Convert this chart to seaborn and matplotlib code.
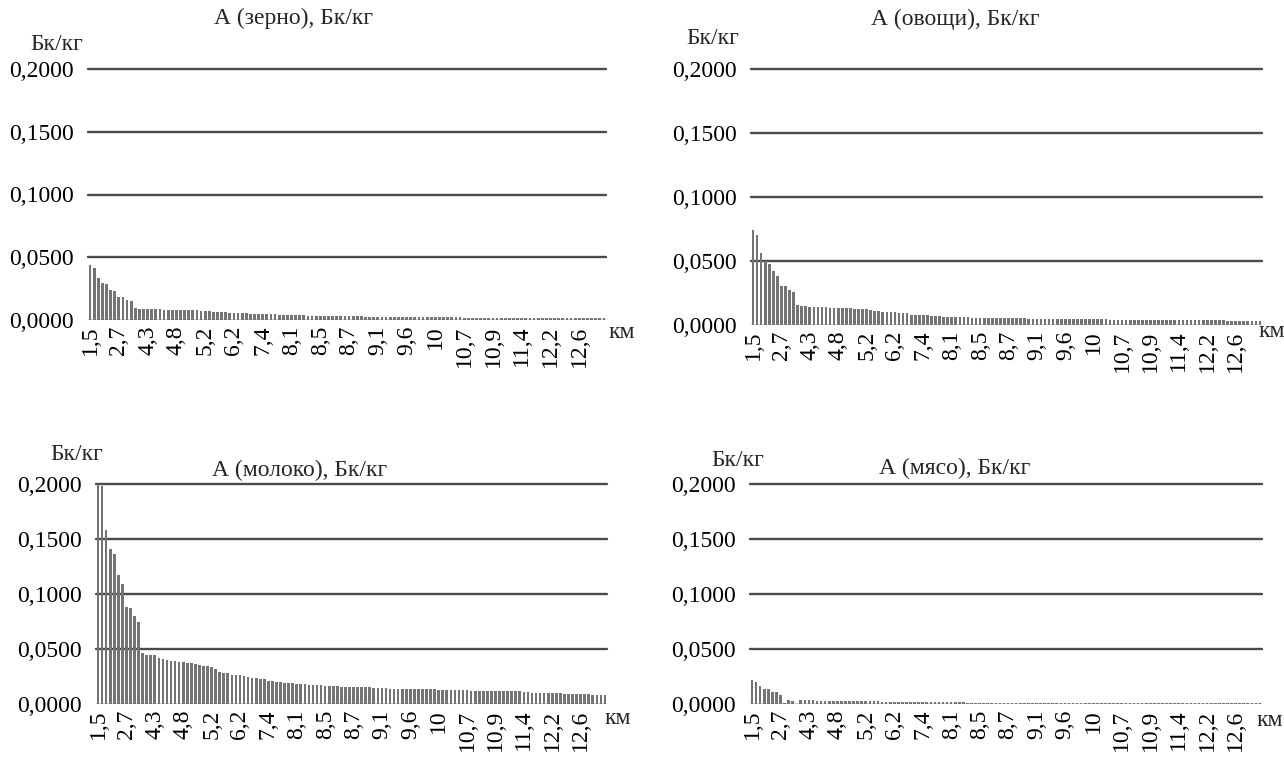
import numpy as np
import pandas as pd
import seaborn as sns
import matplotlib
matplotlib.use("Agg")
import matplotlib.pyplot as plt
from matplotlib.ticker import FuncFormatter

sns.set_theme(style="white")
plt.rcParams["font.family"] = ["Liberation Serif", "DejaVu Serif"]

# Distance labels (km) printed under every 7th bar
tick_labels = ["1,5", "2,7", "4,3", "4,8", "5,2", "6,2", "7,4", "8,1", "8,5",
               "8,7", "9,1", "9,6", "10", "10,7", "10,9", "11,4", "12,2", "12,6"]
tick_step = 7

titles = ["А (зерно), Бк/кг", "А (овощи), Бк/кг", "А (молоко), Бк/кг", "А (мясо), Бк/кг"]
y_ticks = [0.0, 0.05, 0.10, 0.15, 0.20]

# Specific activity, Bq/kg, one value per distance point
grain = [
    0.0437, 0.0415, 0.0331, 0.0294, 0.0283, 0.0243, 0.0228, 0.0183, 0.0182, 0.0161, 0.0153,
    0.0092, 0.0091, 0.0090, 0.0089, 0.0088, 0.0086,
    0.0084, 0.0083, 0.0082, 0.0081, 0.0080, 0.0080, 0.0079, 0.0078, 0.0077, 0.0076, 0.0074, 0.0072, 0.0068,
    0.0064, 0.0062, 0.0061, 0.0060, 0.0059, 0.0058, 0.0057, 0.0056, 0.0054,
    0.0050, 0.0049, 0.0048, 0.0047, 0.0046, 0.0045, 0.0044, 0.0043,
    0.0040, 0.0039, 0.0038, 0.0037, 0.0037, 0.0036, 0.0035, 0.0035, 0.0034, 0.0033, 0.0033, 0.0032, 0.0031, 0.0031, 0.0030,
    0.0030, 0.0029, 0.0029, 0.0028, 0.0028, 0.0027, 0.0027, 0.0027, 0.0026, 0.0026,
    0.0025, 0.0025, 0.0025, 0.0024, 0.0024, 0.0024, 0.0023, 0.0023, 0.0023, 0.0022,
    0.0022, 0.0022, 0.0021, 0.0021, 0.0021, 0.0020, 0.0020, 0.0020, 0.0020, 0.0019,
    0.0019, 0.0019, 0.0019, 0.0018, 0.0018, 0.0018, 0.0018, 0.0018, 0.0017, 0.0017,
    0.0017, 0.0017, 0.0017, 0.0017, 0.0016, 0.0016, 0.0016, 0.0016, 0.0016, 0.0016,
    0.0016, 0.0015, 0.0015, 0.0015, 0.0015, 0.0015, 0.0015, 0.0015, 0.0014, 0.0014, 0.0014, 0.0014, 0.0014, 0.0014,
]

vegetables = [
    0.0742, 0.0705, 0.0563, 0.0500, 0.0479, 0.0421, 0.0382, 0.0303, 0.0302, 0.0276, 0.0258,
    0.0153, 0.0152, 0.0151,
    0.0142, 0.0140, 0.0139, 0.0138, 0.0137,
    0.0134, 0.0133, 0.0132, 0.0131, 0.0130, 0.0129, 0.0128, 0.0127, 0.0126, 0.0125,
    0.0118, 0.0112, 0.0108, 0.0105, 0.0102, 0.0100, 0.0098, 0.0096, 0.0094, 0.0091,
    0.0080, 0.0078, 0.0077, 0.0076, 0.0075, 0.0074, 0.0073, 0.0072,
    0.0065, 0.0064, 0.0063, 0.0062, 0.0061, 0.0060, 0.0059, 0.0058, 0.0058, 0.0057, 0.0056, 0.0056, 0.0055, 0.0054, 0.0054,
    0.0053, 0.0053, 0.0052, 0.0052, 0.0051, 0.0051, 0.0050, 0.0050, 0.0049, 0.0049,
    0.0048, 0.0048, 0.0047, 0.0047, 0.0047, 0.0046, 0.0046, 0.0045, 0.0045, 0.0045,
    0.0044, 0.0044, 0.0044, 0.0043, 0.0043, 0.0043, 0.0042, 0.0042, 0.0042, 0.0041,
    0.0041, 0.0041, 0.0040, 0.0040, 0.0040, 0.0040, 0.0039, 0.0039, 0.0039, 0.0039,
    0.0038, 0.0038, 0.0038, 0.0038, 0.0037, 0.0037, 0.0037, 0.0037, 0.0037, 0.0036,
    0.0036, 0.0036, 0.0036, 0.0036, 0.0036, 0.0035, 0.0035, 0.0035, 0.0035, 0.0035, 0.0035, 0.0034, 0.0034, 0.0034,
]

milk = [
    0.2150, 0.1980, 0.1580, 0.1410, 0.1360, 0.1170, 0.1090, 0.0880, 0.0870, 0.0800, 0.0745,
    0.0460, 0.0445, 0.0444, 0.0442,
    0.0420, 0.0410,
    0.0400, 0.0394, 0.0388, 0.0384, 0.0380, 0.0376, 0.0370,
    0.0360, 0.0354, 0.0350, 0.0345, 0.0339,
    0.0315,
    0.0295, 0.0285, 0.0278,
    0.0268, 0.0263, 0.0260,
    0.0252, 0.0246, 0.0240, 0.0234, 0.0229, 0.0224,
    0.0212, 0.0208, 0.0204, 0.0200,
    0.0194, 0.0190, 0.0187, 0.0184, 0.0181, 0.0178, 0.0176, 0.0174, 0.0172, 0.0170,
    0.0166, 0.0164, 0.0162, 0.0160, 0.0158, 0.0156,
    0.0154, 0.0153, 0.0152, 0.0152, 0.0151, 0.0151, 0.0150, 0.0150, 0.0149, 0.0148,
    0.0138, 0.0137, 0.0136, 0.0136, 0.0135, 0.0135, 0.0134, 0.0134, 0.0133, 0.0133,
    0.0132, 0.0132, 0.0131, 0.0131, 0.0130, 0.0130, 0.0129, 0.0128, 0.0127, 0.0126,
    0.0122, 0.0121, 0.0121, 0.0120, 0.0120, 0.0119, 0.0119, 0.0118, 0.0118, 0.0117, 0.0116, 0.0115, 0.0114,
    0.0106, 0.0105, 0.0104, 0.0103, 0.0102, 0.0101, 0.0100, 0.0099, 0.0098, 0.0097,
    0.0090, 0.0089, 0.0089, 0.0088, 0.0088, 0.0087, 0.0087, 0.0086, 0.0086, 0.0085, 0.0085,
]

meat = [
    0.0215, 0.0203, 0.0161, 0.0139, 0.0133, 0.0112, 0.0106, 0.0082, 0.0006, 0.0033, 0.0024, 0.0002,
    0.0033, 0.0033, 0.0032, 0.0032, 0.0031, 0.0031, 0.0031, 0.0030, 0.0030, 0.0030,
    0.0029, 0.0029, 0.0028, 0.0028, 0.0027, 0.0027, 0.0026, 0.0025, 0.0024, 0.0023,
    0.0022, 0.0022, 0.0021, 0.0021, 0.0020, 0.0020, 0.0019, 0.0019, 0.0018, 0.0018,
    0.0017, 0.0017, 0.0016, 0.0016, 0.0016, 0.0015, 0.0015, 0.0015, 0.0014, 0.0014,
    0.0014, 0.0013, 0.0013, 0.0013, 0.0012, 0.0012, 0.0012, 0.0012, 0.0011, 0.0011,
    0.0011, 0.0011, 0.0010, 0.0010, 0.0010, 0.0010, 0.0010, 0.0009, 0.0009, 0.0009,
    0.0009, 0.0009, 0.0009, 0.0008, 0.0008, 0.0008, 0.0008, 0.0008, 0.0008, 0.0008,
    0.0007, 0.0007, 0.0007, 0.0007, 0.0007, 0.0007, 0.0007, 0.0007, 0.0007, 0.0007,
    0.0007, 0.0007, 0.0007, 0.0006, 0.0006, 0.0006, 0.0006, 0.0006, 0.0006, 0.0006,
    0.0006, 0.0006, 0.0006, 0.0006, 0.0006, 0.0006, 0.0006, 0.0006, 0.0006, 0.0006,
    0.0006, 0.0006, 0.0006, 0.0006, 0.0005, 0.0005, 0.0005, 0.0005, 0.0005, 0.0005,
    0.0005, 0.0005, 0.0005, 0.0005,
]

series = [grain, vegetables, milk, meat]

W, H = 1284, 757
FS = 17
BAR_COLOR = "#747474"
GRID_COLOR = "#4a4a4a"

# Panel frames in pixels: left, y of zero line, right, y of top line
frames = [(88, 320, 606, 69), (751, 325, 1262, 69), (96, 704, 607, 484), (750, 704, 1262, 484)]
title_pos = [(293, 18), (955, 19), (300, 470), (955, 468)]
unit_pos = [(57, 44), (713, 38), (77, 455), (738, 461)]
km_pos = [(622, 333), (1272, 331), (618, 718), (1270, 721)]

fig = plt.figure(figsize=(W / 100, H / 100), dpi=100)
fig.patch.set_facecolor("white")


def fx(px):
    return px / W


def fy(py):
    return 1 - py / H


comma_fmt = FuncFormatter(lambda v, pos: f"{v:.4f}".replace(".", ","))

for i, vals in enumerate(series):
    left, zero_y, right, top_y = frames[i]
    ax = fig.add_axes([fx(left), fy(zero_y), (right - left) / W, (zero_y - top_y) / H])
    df = pd.DataFrame({"idx": np.arange(len(vals)), "value": vals})
    sns.barplot(data=df, x="idx", y="value", ax=ax, color=BAR_COLOR,
                saturation=1, width=0.65, linewidth=0, zorder=3)
    ax.set_xlim(-0.5, len(vals) - 0.5)
    ax.set_ylim(0, 0.2)
    for yv in y_ticks[1:]:
        ax.axhline(yv, color=GRID_COLOR, lw=1.7, zorder=1, clip_on=False)
    ax.axhline(0, color="#c8c8c8", lw=1.2, zorder=2)
    for s in ax.spines.values():
        s.set_visible(False)
    ax.set_yticks(y_ticks)
    ax.yaxis.set_major_formatter(comma_fmt)
    ax.set_xticks(np.arange(0, len(vals), tick_step)[:len(tick_labels)])
    ax.set_xticklabels(tick_labels, rotation=90)
    ax.tick_params(axis="y", length=0, pad=10, labelsize=FS, colors="black")
    ax.tick_params(axis="x", length=0, pad=4, labelsize=FS, colors="black")
    ax.set_xlabel("")
    ax.set_ylabel("")
    ax.grid(False)
    ax.set_facecolor("none")

    fig.text(fx(title_pos[i][0]), fy(title_pos[i][1]), titles[i], ha="center", va="center", fontsize=FS)
    fig.text(fx(unit_pos[i][0]), fy(unit_pos[i][1]), "Бк/кг", ha="center", va="center", fontsize=FS)
    fig.text(fx(km_pos[i][0]), fy(km_pos[i][1]), "км", ha="center", va="center", fontsize=FS)

fig.savefig("out.png", dpi=100, facecolor="white")
